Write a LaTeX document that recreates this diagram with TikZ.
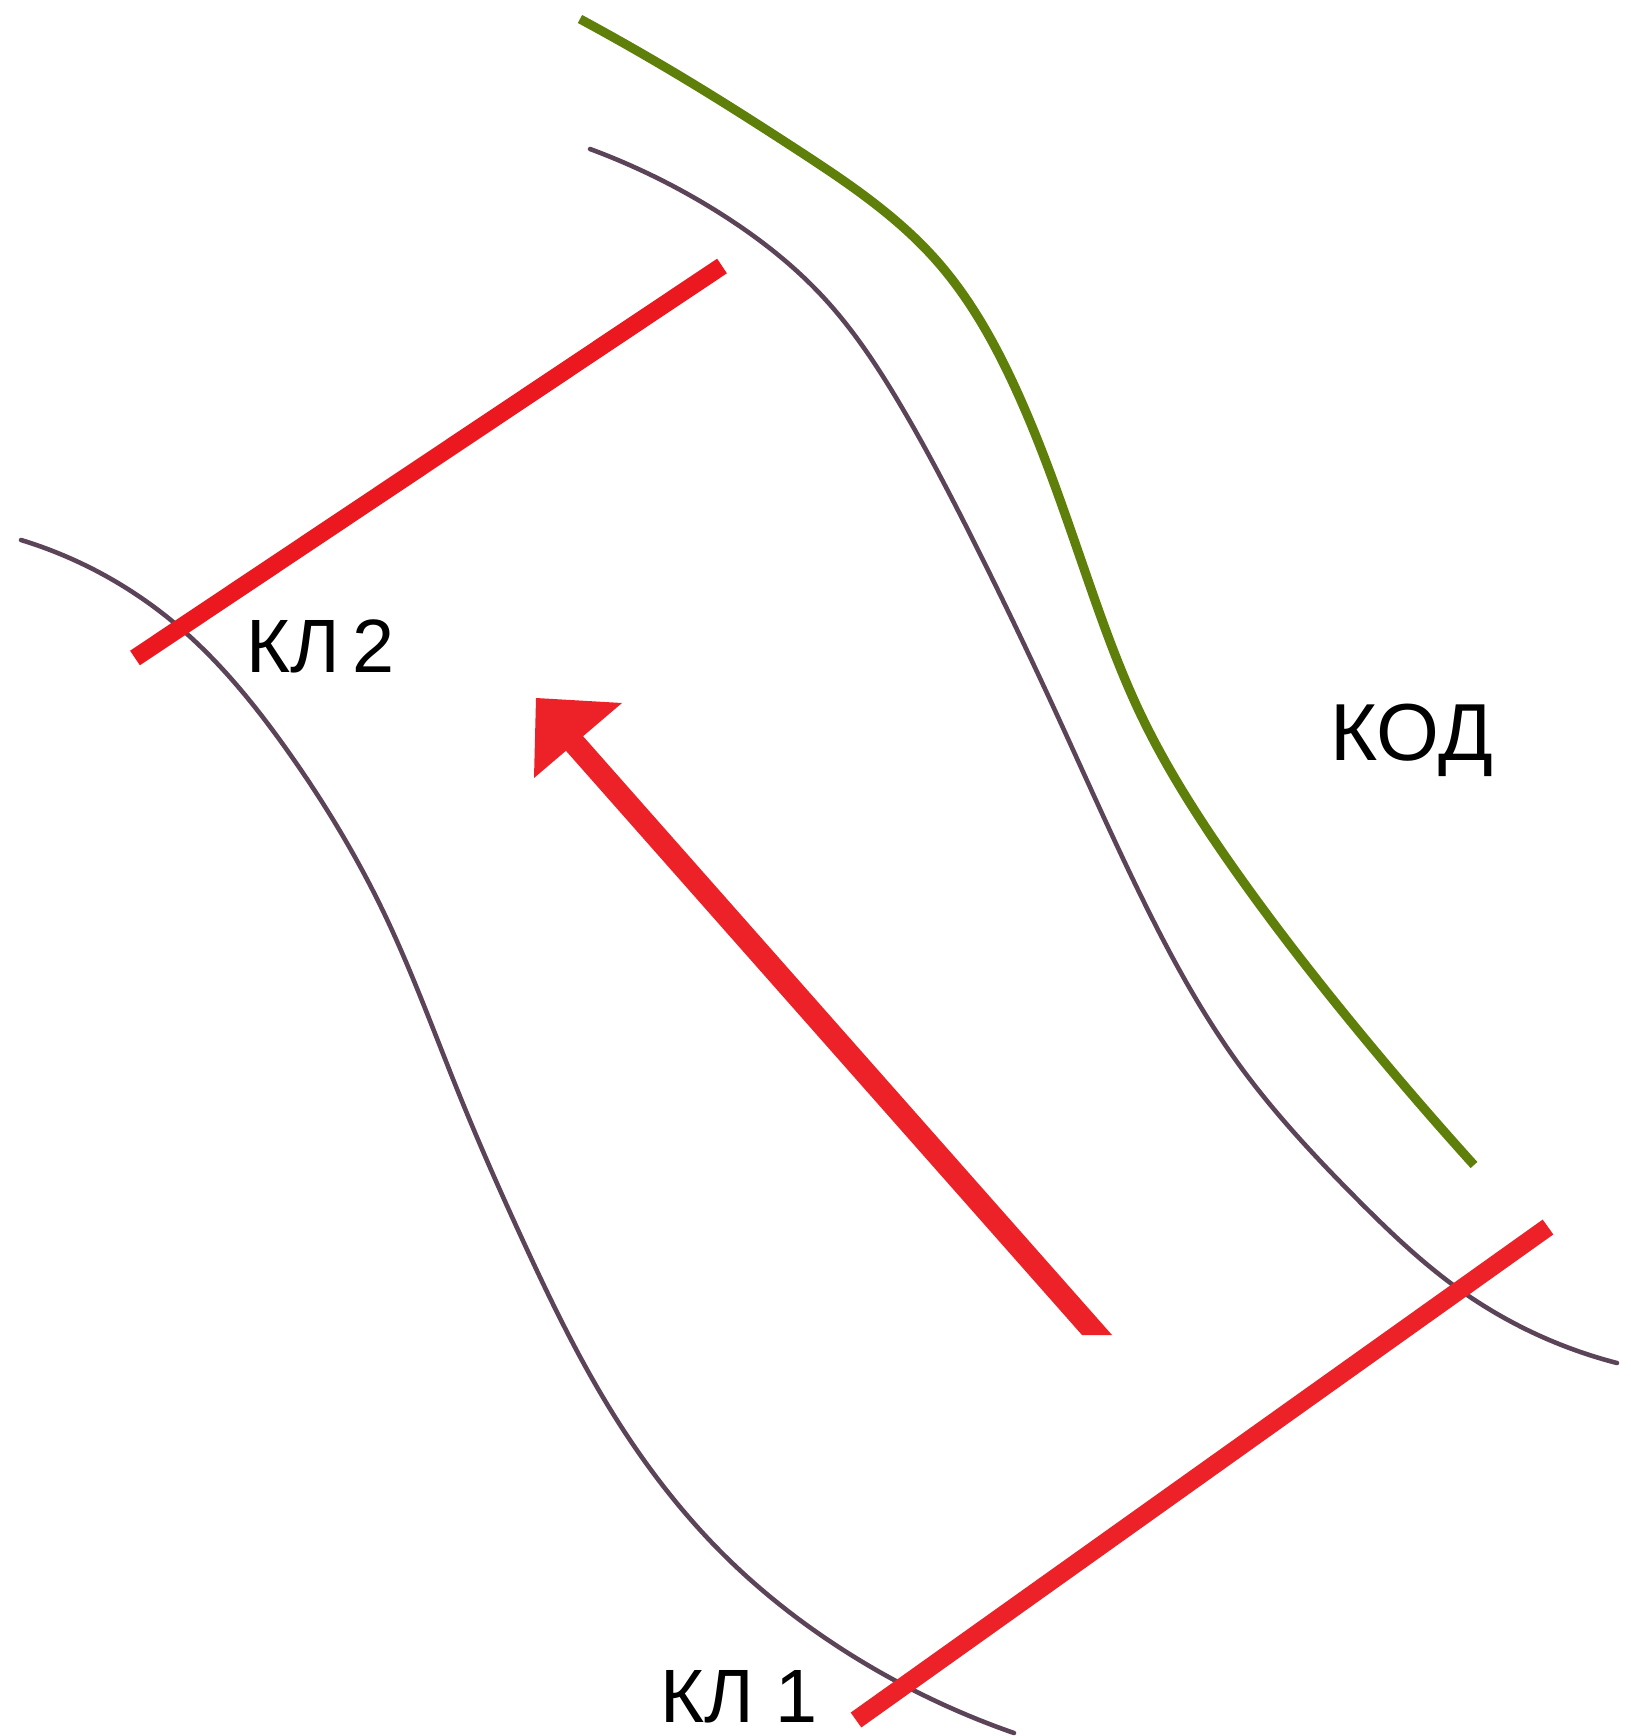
\documentclass[tikz,border=0pt]{standalone}
\usepackage{fontspec}
\setmainfont{Liberation Sans}
\usetikzlibrary{hobby}
\definecolor{cutred}{RGB}{236,24,32}
\definecolor{arrred}{RGB}{237,34,40}
\definecolor{bank}{RGB}{92,68,88}
\definecolor{edge}{RGB}{94,128,10}
\tikzset{
  redline/.style={draw=cutred, line width=5pt, line cap=butt},
  bankline/.style={draw=bank, line width=1.3pt, line cap=round, use Hobby shortcut},
  greenline/.style={draw=edge, line width=2.6pt, line cap=butt, use Hobby shortcut},
  lbl/.style={inner sep=0pt, anchor=base west, text depth=0pt, font=\fontsize{21.5}{24}\selectfont, text=black}
}
\begin{document}
\begin{tikzpicture}[x=0.01cm, y=-0.01cm]
\useasboundingbox (0,0) rectangle (1631,1736);
\fill[white] (0,0) rectangle (1631,1736);

% green line
\draw[greenline] (580,19) .. (690,82) .. (796,149) .. (936,260) .. (1013,383) .. (1090,586) .. (1140,713) .. (1232,866) .. (1356,1028) .. (1474,1165);

% right bank
\draw[bankline] (590,149) .. (718,212) .. (824,298) .. (901,406) .. (971,536) .. (1058,717) .. (1140,894) .. (1240,1066) .. (1356,1198) .. (1460,1290) .. (1617,1363);

% left bank
\draw[bankline] (21,540) .. (172,621) .. (287,750) .. (383,911) .. (459,1094) .. (524,1243) .. (607,1404) .. (723,1554) .. (856,1658) .. (1014,1733);

% cross-section lines
\coordinate (k2a) at (135,658);
\coordinate (k2b) at (722,266);
\coordinate (k1a) at (856,1720);
\coordinate (k1b) at (1548,1227);
\draw[redline] (k2a) -- (k2b);
\draw[redline, draw=arrred, line width=5.2pt] (k1a) -- (k1b);

% flow arrow
\coordinate (tip) at (536,698);
\coordinate (hr) at (622,703);
\coordinate (hl) at (534,778);
\fill[arrred] (1082,1335) -- (1112,1335) -- (582,735) -- (552,735) -- cycle;
\fill[arrred] (tip) -- (hr) -- (hl) -- cycle;

% labels
\node[lbl] (kl2) at (246,672) {КЛ\,2};
\node[lbl, font=\fontsize{23}{25}\selectfont] (kod) at (1330,760) {КОД};
\node[lbl] (kl1) at (660,1722) {КЛ 1};
\end{tikzpicture}
\end{document}
